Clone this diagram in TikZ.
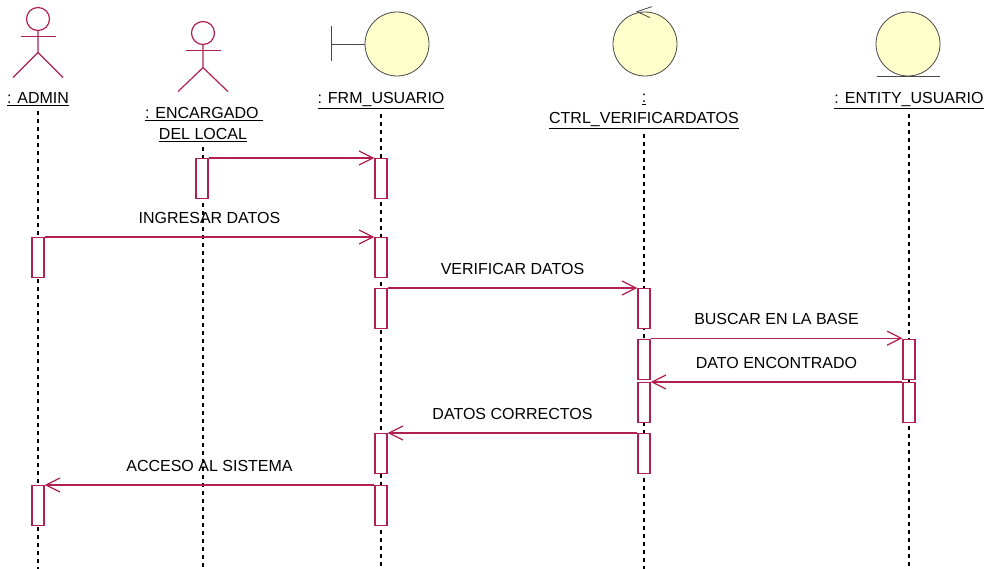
\documentclass[tikz,border=0pt]{standalone}
\usepackage{fontspec}
\setmainfont{Liberation Sans}
\usepackage{tikz}
\usetikzlibrary{
	arrows.meta,
	positioning,
	calc
}
\definecolor{main}{RGB}{176,32,80}
\definecolor{objfill}{RGB}{255,255,204}
\definecolor{objline}{RGB}{72,72,72}
\tikzset{
  % arrow
	cstmsg/.style     ={-{Straight Barb[length=14pt,width=14pt]}, main, line width=1.2pt}, % message
  % line
	cstlife/.style    ={black, line width=1.1pt, dash pattern=on 4pt off 4pt}, % lifeline
	cstactor/.style   ={main, line width=1.2pt},
	cstobjline/.style ={objline, line width=0.8pt},
  % node
	csthead/.style    ={circle, draw=main, line width=1.2pt, minimum size=23pt, inner sep=0pt},
	cstobj/.style     ={circle, draw=objline, fill=objfill, line width=0.8pt, minimum size=64pt, inner sep=0pt},
	cstact/.style     ={draw=main, fill=white, line width=1.2pt, minimum width=12pt, minimum height=40pt, inner sep=0pt, anchor=north},
	cstname/.style    ={font=\fontsize{16}{21}\selectfont, text=black, inner sep=0pt, anchor=base},
	cstlabel/.style   ={font=\fontsize{16}{21}\selectfont, text=black, inner sep=0pt, above=13pt}
}

\begin{document}
\begin{tikzpicture}[x=1pt,y=-1pt]
	\useasboundingbox (0,0) rectangle (989,569);
	\coordinate (bot) at (0,569);
	% actors
	\node[csthead] (hAdmin) at (38,19) {};
	\draw[cstactor] (hAdmin.south) -- ++(0,21.5) -- ++(-25,25) ++(25,-25) -- ++(25,25);
	\draw[cstactor] ([yshift=-5.5pt]hAdmin.south) ++(-17.5,0) -- ++(35,0);
	\node[csthead] (hEnc) at (203,33) {};
	\draw[cstactor] (hEnc.south) -- ++(0,22.5) -- ++(-25,24) ++(25,-24) -- ++(25,24);
	\draw[cstactor] ([yshift=-5.5pt]hEnc.south) ++(-17.5,0) -- ++(35,0);
	% boundary, control, entity
	\node[cstobj] (frm) at (397,44) {};
	\draw[cstobjline] (frm.west) -- ++(-33,0) ++(0,-17.5) -- ++(0,35);
	\node[cstobj] (ctrl) at (645,44) {};
	\draw[cstobjline] ($(ctrl.north)+(7,-5)$) -- ($(ctrl.north)+(-8,0)$) -- ($(ctrl.north)+(5,6)$);
	\node[cstobj] (ent) at (908,44) {};
	\draw[cstobjline] (ent.south) ++(-31.5,0) -- ++(63,0);
	% names
	\node[cstname] (lAdmin) at (38,104) {\underline{: ADMIN}};
	\node[cstname] (lEnc) at (204,119) {\underline{: ENCARGADO\ }};
	\node[cstname] (lEnc2) at (203,140) {\underline{DEL LOCAL}};
	\node[cstname] (lFrm) at (381,104) {\underline{: FRM\_USUARIO}};
	\node[cstname] (lCtrl) at (644,103) {\underline{:}};
	\node[cstname] (lCtrl2) at (644,124) {\underline{CTRL\_VERIFICARDATOS}};
	\node[cstname] (lEnt) at (909,104) {\underline{: ENTITY\_USUARIO}};
	% lifelines
	\foreach \l in {lAdmin,lEnc2,lFrm,lCtrl2,lEnt}
		\draw[cstlife] ([yshift=-5pt]\l.south) -- (\l |- bot);
	% activations
	\node[cstact] (e1) at (202,158) {};
	\node[cstact] (f1) at (381,158) {};
	\node[cstact] (a1) at (38,237) {};
	\node[cstact] (f2) at (381,237) {};
	\node[cstact] (f3) at (381,288) {};
	\node[cstact] (c1) at (644,288) {};
	\node[cstact] (c2) at (644,339) {};
	\node[cstact] (n1) at (909,339) {};
	\node[cstact] (c3) at (644,382) {};
	\node[cstact] (n2) at (909,382) {};
	\node[cstact] (f4) at (381,433) {};
	\node[cstact] (c4) at (644,433) {};
	\node[cstact] (a2) at (38,485) {};
	\node[cstact] (f5) at (381,485) {};
	% messages
	\draw[cstmsg] (e1.north east) -- (f1.north west);
	\draw[cstmsg] (a1.north east) -- node[cstlabel] (mIngresar) {INGRESAR DATOS} (f2.north west);
	\draw[cstmsg] (f3.north east) -- node[cstlabel] (mVerificar) {VERIFICAR DATOS} (c1.north west);
	\coordinate (cBus) at ($(c1.south east)+(0,9)$);
	\draw[cstmsg] (cBus) -- node[cstlabel] (mBuscar) {BUSCAR EN LA BASE} (cBus -| n1.west);
	\draw[cstmsg] (n2.north west) -- node[cstlabel] (mEncontrado) {DATO ENCONTRADO} (c3.north east);
	\draw[cstmsg] (c4.north west) -- node[cstlabel] (mCorrectos) {DATOS CORRECTOS} (f4.north east);
	\draw[cstmsg] (f5.north west) -- node[cstlabel] (mAcceso) {ACCESO AL SISTEMA} (a2.north east);
\end{tikzpicture}
\end{document}
